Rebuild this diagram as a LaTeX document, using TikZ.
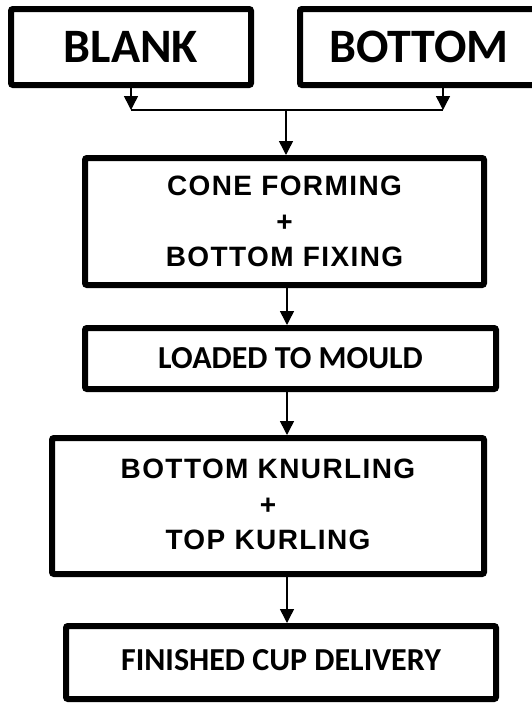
\documentclass[tikz,border=0pt]{standalone}
\usepackage{fontspec}
\newfontfamily\calfont{Carlito}
\newfontfamily\arifont{Liberation Sans}[LetterSpace=5]
\usetikzlibrary{arrows.meta}
\tikzset{
  boxstyle/.style={draw=black, line width=6pt, rounded corners=2pt, fill=white, inner sep=0pt, align=center},
  calbox/.style={boxstyle, font=\calfont\bfseries},
  aribox/.style={boxstyle, font=\arifont\bfseries\fontsize{28}{35.5}\selectfont},
  conn/.style={line width=1.5pt, draw=black},
  arr/.style={conn, -{Triangle[width=14pt,length=14pt]}},
}
\begin{document}
\begin{tikzpicture}[x=1pt,y=-1pt]
\useasboundingbox (0,0) rectangle (532,705);
\fill[white] (0,0) rectangle (532,705);
\node[calbox, minimum width=240pt, minimum height=76pt, font=\calfont\bfseries\fontsize{48}{58}\selectfont] (blank) at (131,47) {\raisebox{-3pt}{BLANK}};
\node[calbox, minimum width=246pt, minimum height=76pt, font=\calfont\bfseries\fontsize{48}{58}\selectfont] (bottom) at (423,47) {\raisebox{-3pt}{BOTTOM}\hspace*{8pt}};
\node[aribox, minimum width=399pt, minimum height=127pt] (cone) at (284.5,221.5) {CONE FORMING\\+\\BOTTOM FIXING};
\node[calbox, minimum width=411pt, minimum height=61pt, font=\calfont\bfseries\fontsize{32}{38}\selectfont] (loaded) at (290.5,358.5) {LOADED TO MOULD};
\node[aribox, minimum width=432pt, minimum height=136pt] (knurl) at (268,506) {\raisebox{3pt}{BOTTOM KNURLING}\\\raisebox{3pt}{+}\\\raisebox{3pt}{TOP KURLING}};
\node[calbox, minimum width=430pt, minimum height=73pt, font=\calfont\bfseries\fontsize{32}{38}\selectfont] (finished) at (281,662.5) {\raisebox{6pt}{FINISHED CUP DELIVERY}};
\coordinate (jl) at (131,110);
\coordinate (jr) at (443,110);
\coordinate (jm) at (286,110);
\coordinate (ax) at (287,0);
\draw[arr] (blank.south -| jl) -- (jl);
\draw[arr] (bottom.south -| jr) -- (jr);
\draw[conn] (jl) -- (jr);
\draw[arr] (jm) -- (cone.north -| jm);
\draw[arr] (cone.south -| ax) -- (loaded.north -| ax);
\draw[arr] (loaded.south -| ax) -- (knurl.north -| ax);
\draw[arr] (knurl.south -| ax) -- (finished.north -| ax);
\end{tikzpicture}
\end{document}
